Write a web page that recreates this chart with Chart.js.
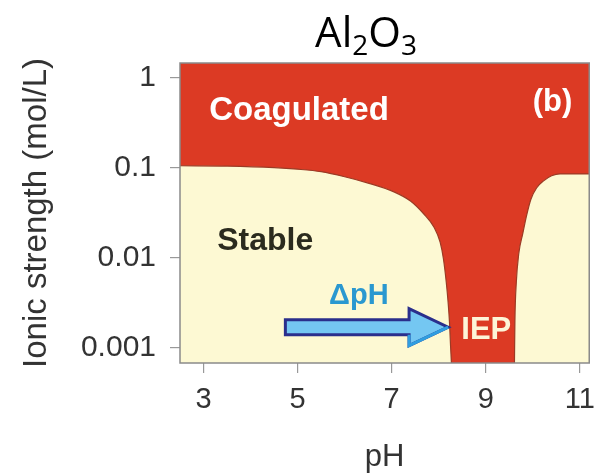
<!DOCTYPE html>
<html>
<head>
<meta charset="utf-8">
<script src="https://cdn.jsdelivr.net/npm/chart.js@4"></script>
<style>
  html, body { margin: 0; padding: 0; background: #fff; }
  #wrap { width: 605px; height: 476px; }
</style>
</head>
<body>
<div id="wrap"><canvas id="stabilityChart"></canvas></div>
<script>
// stability boundary (pH, ionic strength mol/L)
var leftPH = [2.5, 3.5, 4.5, 5.0, 5.5, 6.0, 6.5, 7.06, 7.4, 7.68, 7.9, 8.03, 8.1, 8.16, 8.2, 8.23, 8.25, 8.27];
var leftI  = [0.106, 0.105, 0.101, 0.097, 0.091, 0.080, 0.068, 0.054, 0.043, 0.031, 0.022, 0.015, 0.0098, 0.0054, 0.0032, 0.0019, 0.0011, 0.00068];
var rightPH = [9.61, 9.62, 9.65, 9.70, 9.79, 9.87, 9.96, 10.08, 10.23, 10.40, 10.58, 11.2];
var rightI  = [0.00068, 0.002, 0.0054, 0.011, 0.019, 0.030, 0.045, 0.060, 0.072, 0.082, 0.086, 0.086];

var xTicks = [3, 5, 7, 9, 11];
var yTicks = [1, 0.1, 0.01, 0.001];
var yTickLabels = ["1", "0.1", "0.01", "0.001"];

// text placed in data units (pH, I)
var noteText  = ["Coagulated", "(b)", "Stable", "\u0394pH", "IEP"];
var notePH    = [3.12, 10.0, 3.29, 5.67, 8.48];
var noteI     = [0.43, 0.54, 0.0155, 0.0038, 0.00155];

// arrow: tail, head start, tip (pH) at one ionic strength
var arrowPH = [4.74, 7.37, 8.2];
var arrowI = 0.0017;

var RED = "#dc3a24";
var CREAM = "#fdf9d3";

function toPoints(xs, ys) {
  var pts = [];
  for (var i = 0; i < xs.length; i++) {
    pts.push({x: xs[i], y: ys[i]});
  }
  return pts;
}

var backdrop = {
  id: "backdrop",
  beforeDraw: function(chart) {
    var a = chart.chartArea, ctx = chart.ctx;
    ctx.save();
    ctx.fillStyle = RED;
    ctx.fillRect(a.left, a.top, a.right - a.left, a.bottom - a.top);
    ctx.restore();
  },
  afterDatasetsDraw: function(chart) {
    var ctx = chart.ctx, xs = chart.scales.x, ys = chart.scales.y;
    var styles = [
      {font: "bold 33px 'Liberation Sans', Arial", color: "#ffffff"},
      {font: "bold 31px 'Liberation Sans', Arial", color: "#ffffff"},
      {font: "bold 32px 'Liberation Sans', Arial", color: "#2b2b1e"},
      {font: "bold 29px 'Liberation Sans', Arial", color: "#2a98d0"},
      {font: "bold 31px 'Liberation Sans', Arial", color: "#fdf5d8"}
    ];
    ctx.save();
    ctx.textAlign = "left";
    ctx.textBaseline = "middle";
    for (var i = 0; i < noteText.length; i++) {
      ctx.font = styles[i].font;
      ctx.fillStyle = styles[i].color;
      ctx.fillText(noteText[i], xs.getPixelForValue(notePH[i]), ys.getPixelForValue(noteI[i]));
    }

    // the ΔpH arrow
    var x0 = xs.getPixelForValue(arrowPH[0]);
    var xh = xs.getPixelForValue(arrowPH[1]);
    var x1 = xs.getPixelForValue(arrowPH[2]);
    var yc = ys.getPixelForValue(arrowI);
    var s = 7.5, h = 18.5;
    ctx.beginPath();
    ctx.moveTo(x0, yc - s);
    ctx.lineTo(xh, yc - s);
    ctx.lineTo(xh, yc - h);
    ctx.lineTo(x1, yc);
    ctx.lineTo(xh, yc + h);
    ctx.lineTo(xh, yc + s);
    ctx.lineTo(x0, yc + s);
    ctx.closePath();
    ctx.fillStyle = "#74c7f2";
    ctx.fill();
    ctx.lineJoin = "miter";
    ctx.strokeStyle = "#2a2f8c";
    ctx.lineWidth = 3;
    ctx.stroke();
    ctx.beginPath();
    ctx.moveTo(x1, yc);
    ctx.lineTo(xh, yc + h);
    ctx.lineTo(xh, yc + s);
    ctx.strokeStyle = "#2f9ee0";
    ctx.lineWidth = 3;
    ctx.stroke();
    ctx.restore();
  },
  afterDraw: function(chart) {
    var a = chart.chartArea, ctx = chart.ctx;
    ctx.save();
    ctx.strokeStyle = "#8a8a8a";
    ctx.lineWidth = 1.5;
    ctx.strokeRect(a.left, a.top, a.right - a.left, a.bottom - a.top);

    // title Al2O3 with subscripts
    var big = "42px 'Open Sans', 'Liberation Sans'";
    var small = "28px 'Open Sans', 'Liberation Sans'";
    var parts = [["Al", big, 0], ["2", small, 8], ["O", big, 0], ["3", small, 8]];
    var total = 0;
    for (var i = 0; i < parts.length; i++) {
      ctx.font = parts[i][1];
      total += ctx.measureText(parts[i][0]).width;
    }
    var x = 366 - total / 2, base = 47;
    ctx.fillStyle = "#000";
    ctx.textBaseline = "alphabetic";
    ctx.textAlign = "left";
    for (var j = 0; j < parts.length; j++) {
      ctx.font = parts[j][1];
      ctx.fillText(parts[j][0], x, base + parts[j][2]);
      x += ctx.measureText(parts[j][0]).width;
    }
    ctx.restore();
  }
};

var ctx = document.getElementById("stabilityChart").getContext("2d");
var chart = new Chart(ctx, {
  type: "line",
  data: {
    datasets: [{
      label: "Stable (acidic side)",
      data: toPoints(leftPH, leftI),
      fill: "start",
      backgroundColor: CREAM,
      borderColor: "#9b3b25",
      borderWidth: 1.2,
      pointRadius: 0,
      cubicInterpolationMode: "monotone"
    },
    {
      label: "Stable (basic side)",
      data: toPoints(rightPH, rightI),
      fill: "start",
      backgroundColor: CREAM,
      borderColor: "#9b3b25",
      borderWidth: 1.2,
      pointRadius: 0,
      cubicInterpolationMode: "monotone"
    }]
  },
  options: {
    responsive: true,
    maintainAspectRatio: false,
    animation: false,
    layout: { padding: { top: 63, right: 5, left: 0, bottom: 0 } },
    plugins: {
      legend: { display: false },
      tooltip: { enabled: false }
    },
    scales: {
      x: {
        type: "linear",
        min: 2.5,
        max: 11.2,
        afterBuildTicks: function(scale) {
          scale.ticks = xTicks.map(function(v) { return {value: v}; });
        },
        afterFit: function(scale) { scale.height = 113; },
        grid: { drawOnChartArea: false, tickLength: 10, tickColor: "#999", lineWidth: 1.2 },
        border: { display: false },
        ticks: {
          color: "#333",
          padding: 10,
          maxRotation: 0,
          autoSkip: false,
          font: { family: "'Liberation Sans', Arial", size: 29 }
        },
        title: {
          display: true,
          text: "pH",
          color: "#333",
          padding: { top: 0, bottom: 0 },
          font: { family: "'Liberation Sans', Arial", size: 31 }
        }
      },
      y: {
        type: "logarithmic",
        min: 0.00068,
        max: 1.47,
        afterBuildTicks: function(scale) {
          scale.ticks = yTicks.map(function(v) { return {value: v}; });
        },
        afterFit: function(scale) { scale.width = 180; },
        grid: { drawOnChartArea: false, tickLength: 10, tickColor: "#999", lineWidth: 1.2 },
        border: { display: false },
        ticks: {
          color: "#333",
          padding: 14,
          autoSkip: false,
          font: { family: "'Liberation Sans', Arial", size: 30 },
          callback: function(value) {
            var k = yTicks.indexOf(value);
            return k >= 0 ? yTickLabels[k] : "";
          }
        },
        title: {
          display: true,
          text: "Ionic strength (mol/L)",
          color: "#333",
          padding: { top: 17, bottom: 0 },
          font: { family: "'Liberation Sans', Arial", size: 33 }
        }
      }
    }
  },
  plugins: [backdrop]
});
</script>
</body>
</html>
